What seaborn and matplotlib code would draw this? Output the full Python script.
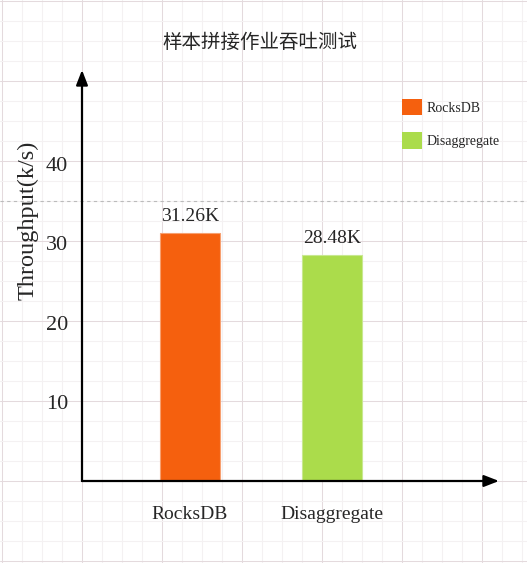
import seaborn as sns
import matplotlib.pyplot as plt
from matplotlib.patches import Patch

# datos
systems = ["RocksDB", "Disaggregate"]
throughput = [31.26, 28.48]
value_labels = ["31.26K", "28.48K"]
colors = ["#f5600e", "#abdc4b"]
yticks = [10, 20, 30, 40]
ref_line = 35.3
title = "样本拼接作业吞吐测试"

W, H = 527, 563
sns.set_style("white")
plt.rcParams["font.family"] = ["Liberation Serif", "DejaVu Serif"]

fig = plt.figure(figsize=(W / 100, H / 100), dpi=100)

# fondo cuadriculado tipo draw.io
bg = fig.add_axes([0, 0, 1, 1], zorder=-1)
bg.set_xlim(0, W)
bg.set_ylim(H, 0)
bg.axis("off")
for i, x in enumerate(range(2, W, 20)):
    if i % 4 == 0:
        bg.axvline(x, color="#e4dadd", lw=0.75)
    else:
        bg.axvline(x, color="#f4f1f2", lw=0.75)
for i, y in enumerate(range(1, H, 20)):
    if i % 4 == 0:
        bg.axhline(y, color="#e4dadd", lw=0.75)
    else:
        bg.axhline(y, color="#f4f1f2", lw=0.75)

# ejes principales (pixeles: x 82..499, y 481..70)
ax = fig.add_axes([82 / W, (H - 481) / H, (499 - 82) / W, (481 - 70) / H])
ax.patch.set_alpha(0)
sns.barplot(x=systems, y=throughput, hue=systems, palette=colors, saturation=1,
            width=0.42, legend=False, ax=ax, edgecolor="#f7a070", linewidth=0.8)
ax.patches[1].set_edgecolor("#c8e890")

ax.set_ylim(0, 411 / 7.92)
ax.set_xlim(-0.761, 2.176)
ax.set_yticks(yticks)
ax.set_yticklabels([str(v) for v in yticks], fontsize=16)
ax.tick_params(axis="y", length=0, pad=10)
ax.tick_params(axis="x", length=0, pad=18, labelsize=14)
for s in ax.spines.values():
    s.set_visible(False)

for cont, lab in zip(ax.containers, value_labels):
    ax.bar_label(cont, labels=[lab], padding=6, fontsize=14)

# flechas de los ejes
arrow = dict(arrowstyle="-|>,head_length=0.9,head_width=0.35", color="black",
             lw=1.6, shrinkA=0, shrinkB=0)
ax.annotate("", xy=(0, 1), xytext=(0, 0), xycoords="axes fraction", arrowprops=arrow)
ax.annotate("", xy=(1, 0), xytext=(0, 0), xycoords="axes fraction", arrowprops=arrow)

# linea discontinua de referencia
ax.axhline(ref_line, xmin=-82 / 417, xmax=(W - 82) / 417, clip_on=False,
           color="#bbbbbb", lw=0.8, ls=(0, (3, 3)), zorder=0)

ax.set_ylabel("Throughput(k/s)", fontsize=17.5)
ax.yaxis.set_label_coords((39 - 82) / 417, (481 - 220) / 411)
ax.set_xlabel("")

fig.text(260 / W, 1 - 42 / H, title, ha="center", va="center", fontsize=14,
         family=["Noto Sans CJK SC", "DejaVu Sans"])

handles = [Patch(facecolor=c, edgecolor="none") for c in colors]
fig.legend(handles, systems, loc="upper left", bbox_to_anchor=(402 / W, 1 - 99 / H),
           frameon=False, fontsize=10, handlelength=1.45, handleheight=1.45,
           handletextpad=0.3, labelspacing=1.2, borderpad=0, borderaxespad=0)

fig.savefig("out.png", dpi=100)
